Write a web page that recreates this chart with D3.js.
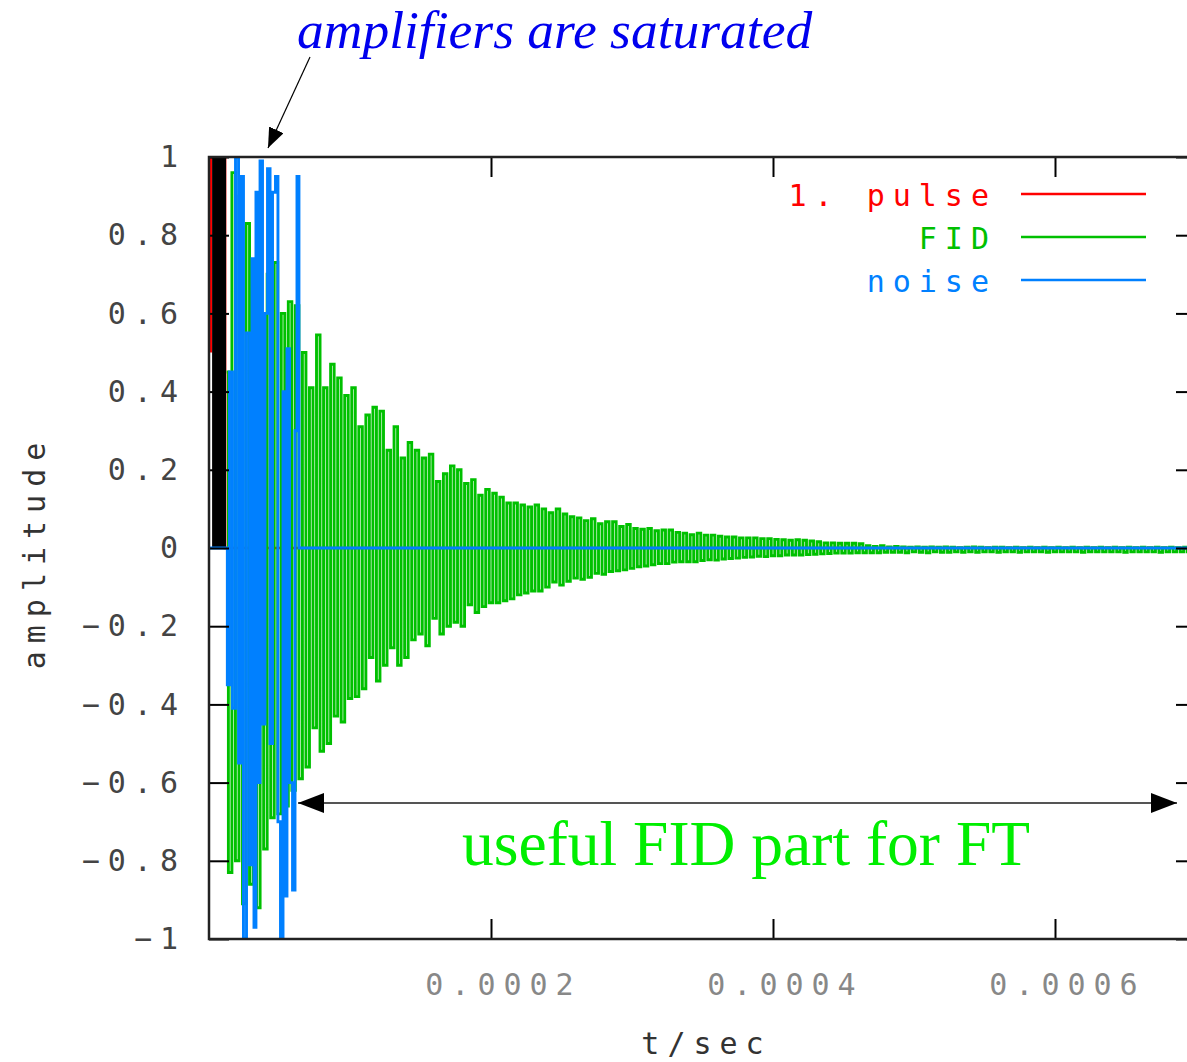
<!DOCTYPE html>
<html>
<head>
<meta charset="utf-8">
<script src="https://cdnjs.cloudflare.com/ajax/libs/d3/7.8.5/d3.min.js"></script>
<style>
  body { margin: 0; background: #fff; }
  svg { display: block; }
</style>
</head>
<body>
<script>
// --- data ---
const xTicks = [0.0002, 0.0004, 0.0006];
const yTicks = [-1, -0.8, -0.6, -0.4, -0.2, 0, 0.2, 0.4, 0.6, 0.8, 1];

const seriesNames = ["1. pulse", "FID", "noise"];
const seriesColors = ["#ff0000", "#00c000", "#0080ff"];

// 1. pulse (times in microseconds)
const pulseTimesUs = [1.3, 1.3, 11.4, 11.4, 700];
const pulseValues = [0.5, 1, 1, 0, 0];
const saturatedBarUs = [2.2, 12.1]; // black block, 0 .. 1

// FID, sampled every 2.5 us from 12.5 us
const fidStartUs = 12.5;
const fidStepUs = 2.5;
const fidValues = [
  0.45, -0.83, 0.96, -0.80, 0.90, -0.91, 0.83, -0.86, 0.66, -0.92,
  0.55, -0.77, 0.70, -0.69, 0.73, -0.68, 0.60, -0.66, 0.63, -0.62,
  0.62, -0.59, 0.50, -0.56, 0.41, -0.46, 0.545, -0.52, 0.41, -0.50,
  0.47, -0.43, 0.435, -0.445, 0.39, -0.385, 0.41, -0.38, 0.31, -0.36,
  0.34, -0.28, 0.36, -0.34, 0.35, -0.30, 0.25, -0.255, 0.31, -0.30,
  0.23, -0.28, 0.27, -0.235, 0.25, -0.22, 0.23, -0.25, 0.24, -0.18,
  0.17, -0.22, 0.19, -0.20, 0.21, -0.19, 0.20, -0.20, 0.165, -0.145,
  0.175, -0.165, 0.135, -0.15, 0.15, -0.14, 0.14, -0.14, 0.13, -0.135,
  0.115, -0.13, 0.115, -0.12, 0.11, -0.115, 0.105, -0.11, 0.11, -0.11,
  0.10, -0.10, 0.09, -0.087, 0.10, -0.095, 0.087, -0.085, 0.08, -0.077,
  0.077, -0.08, 0.07, -0.075, 0.075, -0.065, 0.062, -0.067, 0.067, -0.06,
  0.067, -0.058, 0.055, -0.056, 0.06, -0.052, 0.05, -0.048, 0.048, -0.046,
  0.05, -0.043, 0.044, -0.04, 0.046, -0.04, 0.046, -0.036, 0.04, -0.035,
  0.038, -0.035, 0.034, -0.035, 0.038, -0.032, 0.033, -0.03, 0.033, -0.031,
  0.03, -0.028, 0.028, -0.027, 0.028, -0.026, 0.026, -0.024, 0.026, -0.023,
  0.026, -0.021, 0.024, -0.022, 0.024, -0.02, 0.022, -0.02, 0.021, -0.018,
  0.02, -0.018, 0.021, -0.018, 0.02, -0.017, 0.018, -0.016, 0.016, -0.015,
  0.013, -0.014, 0.013, -0.013, 0.012, -0.013, 0.012, -0.013, 0.012, -0.012,
  0.011, -0.012, 0.006, -0.012, 0.004, -0.012, 0.006, -0.011, 0.003, -0.011,
  0.004, -0.011, 0.003, -0.012, 0.002, -0.010, 0.003, -0.011, 0.002, -0.012,
  0.003, -0.010, 0.002, -0.011, 0.003, -0.011, 0.002, -0.010, 0.001, -0.011,
  0.002, -0.010, 0.003, -0.011, 0.002, -0.010, 0.001, -0.010, 0.002, -0.011,
  0.002, -0.010, 0.001, -0.010, 0.002, -0.011, 0.001, -0.010, 0.002, -0.010,
  0.001, -0.010, 0.002, -0.011, 0.001, -0.010, 0.002, -0.010, 0.001, -0.010,
  0.002, -0.010, 0.001, -0.011, 0.002, -0.010, 0.001, -0.010, 0.002, -0.010,
  0.001, -0.010, 0.002, -0.010, 0.001, -0.011, 0.002, -0.010, 0.001, -0.010,
  0.002, -0.010, 0.001, -0.010, 0.002, -0.011, 0.001, -0.010, 0.002, -0.010,
  0.001, -0.010, 0.002, -0.010, 0.001, -0.010
];

// noise (times in microseconds)
const noiseTimesUs = [0, 12.5, 13.5, 15.6, 17.7, 19.9, 22.0, 23.4, 25.5, 27.7,
  29.8, 31.2, 32.6, 34.0, 35.5, 36.9, 39.0, 40.4, 42.6, 44.0, 46.1, 48.2,
  49.6, 51.8, 53.2, 54.6, 56.0, 58.2, 60.3, 61.7, 63.1, 64.5, 700];
const noiseValues = [0, 0, -0.35, 0.45, -0.41, 1.0, -0.55, 0.95, -1.0, 0.55,
  -0.81, 0.74, -0.97, 0.91, -0.60, 0.99, -0.45, 0.60, 0.97, -0.50, 0.91, 0.95,
  -0.70, -1.0, 0.40, -0.89, 0.51, -0.60, -0.875, 0.30, 0.95, 0, 0];

// --- layout ---
const width = 1187, height = 1062;
const plotL = 209, plotT = 157, plotR = 1196, plotB = 939;

const x = d3.scaleLinear().domain([0, 0.0007]).range([plotL, plotR]);
const y = d3.scaleLinear().domain([-1, 1]).range([plotB, plotT]);

const svg = d3.select("body").append("svg")
  .attr("width", width)
  .attr("height", height)
  .attr("viewBox", `0 0 ${width} ${height}`);

const defs = svg.append("defs");
defs.append("clipPath").attr("id", "plot")
  .append("rect")
  .attr("x", plotL).attr("y", plotT - 1)
  .attr("width", plotR - plotL).attr("height", plotB - plotT + 2);

function arrowHead(id, len, wid) {
  defs.append("marker")
    .attr("id", id)
    .attr("viewBox", `0 0 ${len} ${wid}`)
    .attr("refX", len).attr("refY", wid / 2)
    .attr("markerUnits", "userSpaceOnUse")
    .attr("markerWidth", len).attr("markerHeight", wid)
    .attr("orient", "auto-start-reverse")
    .append("path")
    .attr("d", `M0,0L${len},${wid / 2}L0,${wid}Z`)
    .attr("fill", "#000");
}
arrowHead("headSmall", 20, 16);
arrowHead("headBig", 26, 20);

const monoFont = "'DejaVu Sans Mono', 'Liberation Mono', monospace";

// --- data marks ---
const plot = svg.append("g").attr("clip-path", "url(#plot)");

const pulse = pulseTimesUs.map((t, i) => ({ t: t * 1e-6, v: pulseValues[i] }));
const fid = fidValues.map((v, i) => ({ t: (fidStartUs + i * fidStepUs) * 1e-6, v }));
const noise = noiseTimesUs.map((t, i) => ({ t: t * 1e-6, v: noiseValues[i] }));

const line = d3.line().x(d => x(d.t)).y(d => y(d.v));
const stepLine = d3.line().x(d => x(d.t)).y(d => y(d.v)).curve(d3.curveStep);

plot.append("path")
  .datum(pulse)
  .attr("d", line)
  .attr("fill", "none")
  .attr("stroke", seriesColors[0])
  .attr("stroke-width", 2.6);

plot.append("rect")
  .attr("x", x(saturatedBarUs[0] * 1e-6))
  .attr("y", y(1))
  .attr("width", x(saturatedBarUs[1] * 1e-6) - x(saturatedBarUs[0] * 1e-6))
  .attr("height", y(0) - y(1))
  .attr("fill", "#000");

[fid, noise].forEach((data, i) => {
  plot.append("path")
    .datum(data)
    .attr("d", stepLine)
    .attr("fill", "none")
    .attr("stroke", seriesColors[i + 1])
    .attr("stroke-width", 2.9);
});

// --- axes ---
const styleAxis = g => {
  g.select(".domain").remove();
  g.selectAll(".tick line").attr("stroke", "#000").attr("stroke-width", 2);
};

svg.append("g")
  .attr("transform", `translate(${plotL},0)`)
  .call(d3.axisLeft(y).tickValues(yTicks).tickSize(-20).tickPadding(23)
    .tickFormat(d3.format("~g")))
  .call(styleAxis)
  .call(g => g.selectAll(".tick text")
    .attr("font-family", monoFont).attr("font-size", 30)
    .attr("letter-spacing", 8).attr("fill", "#444"));

svg.append("g")
  .attr("transform", `translate(${plotR},0)`)
  .call(d3.axisRight(y).tickValues(yTicks).tickSize(-20).tickFormat(""))
  .call(styleAxis);

svg.append("g")
  .attr("transform", `translate(0,${plotB})`)
  .call(d3.axisBottom(x).tickValues(xTicks).tickSize(-20).tickPadding(35)
    .tickFormat(d3.format(".4f")))
  .call(styleAxis)
  .call(g => g.selectAll(".tick text")
    .attr("dx", 12)
    .attr("font-family", monoFont).attr("font-size", 30)
    .attr("letter-spacing", 8).attr("fill", "#888"));

svg.append("g")
  .attr("transform", `translate(0,${plotT})`)
  .call(d3.axisTop(x).tickValues(xTicks).tickSize(-20).tickFormat(""))
  .call(styleAxis);

// frame
svg.append("rect")
  .attr("x", plotL).attr("y", plotT)
  .attr("width", plotR - plotL).attr("height", plotB - plotT)
  .attr("fill", "none").attr("stroke", "#222").attr("stroke-width", 2.5);

// axis titles
svg.append("text")
  .attr("transform", `translate(45,552) rotate(-90)`)
  .attr("text-anchor", "middle")
  .attr("font-family", monoFont).attr("font-size", 30)
  .attr("letter-spacing", 8).attr("fill", "#333")
  .text("amplitude");

svg.append("text")
  .attr("x", (plotL + plotR) / 2 + 4).attr("y", 1054)
  .attr("text-anchor", "middle")
  .attr("font-family", monoFont).attr("font-size", 30)
  .attr("letter-spacing", 8).attr("fill", "#333")
  .text("t/sec");

// legend
const legend = svg.append("g");
seriesNames.forEach((name, i) => {
  const ly = 194 + i * 43;
  legend.append("text")
    .attr("x", 997).attr("y", ly + 12)
    .attr("text-anchor", "end")
    .attr("font-family", monoFont).attr("font-size", 30)
    .attr("letter-spacing", 8).attr("fill", seriesColors[i])
    .text(name);
  legend.append("line")
    .attr("x1", 1021).attr("x2", 1146)
    .attr("y1", ly).attr("y2", ly)
    .attr("stroke", seriesColors[i]).attr("stroke-width", 2.6);
});

// annotations
svg.append("text")
  .attr("x", 297).attr("y", 48)
  .attr("font-family", "'Liberation Serif', 'Times New Roman', serif")
  .attr("font-style", "italic").attr("font-size", 53.5)
  .attr("fill", "#0000ee")
  .text("amplifiers are saturated");

svg.append("line")
  .attr("x1", 310).attr("y1", 57)
  .attr("x2", 268).attr("y2", 148)
  .attr("stroke", "#000").attr("stroke-width", 1.2)
  .attr("marker-end", "url(#headSmall)");

svg.append("line")
  .attr("x1", 298).attr("y1", 803)
  .attr("x2", 1177).attr("y2", 803)
  .attr("stroke", "#555").attr("stroke-width", 2)
  .attr("marker-start", "url(#headBig)")
  .attr("marker-end", "url(#headBig)");

svg.append("text")
  .attr("x", 462).attr("y", 865)
  .attr("font-family", "'Liberation Serif', 'Times New Roman', serif")
  .attr("font-size", 64)
  .attr("textLength", 568).attr("lengthAdjust", "spacingAndGlyphs")
  .attr("fill", "#00ee00")
  .text("useful FID part for FT");
</script>
</body>
</html>
